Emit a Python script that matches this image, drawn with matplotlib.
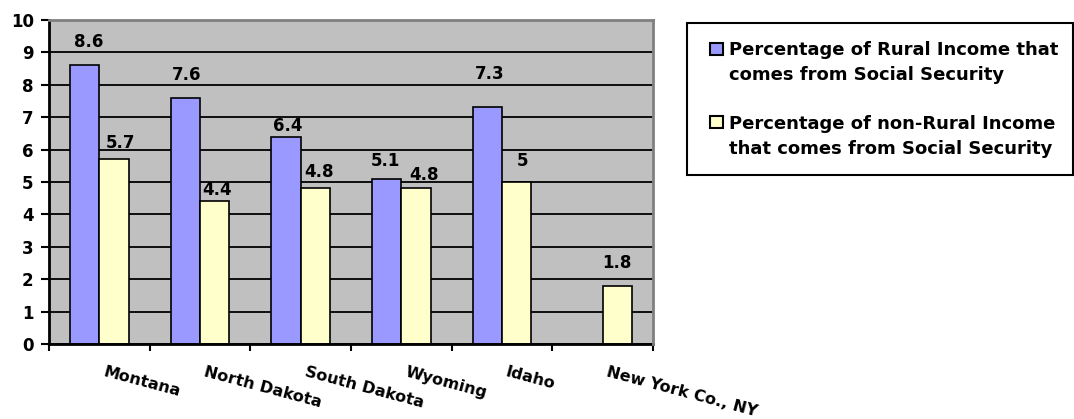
import numpy as np
import matplotlib.pyplot as plt
from matplotlib.patches import Rectangle
from matplotlib.transforms import ScaledTranslation

plt.rcParams['font.family'] = ['DejaVu Sans']
plt.rcParams['font.weight'] = 'bold'

# Share of income coming from Social Security (%)
places = ['Montana', 'North Dakota', 'South Dakota', 'Wyoming', 'Idaho', 'New York Co., NY']
rural_share = [8.6, 7.6, 6.4, 5.1, 7.3, np.nan]
nonrural_share = [5.7, 4.4, 4.8, 4.8, 5.0, 1.8]
series_names = [
    ['Percentage of Rural Income that', 'comes from Social Security'],
    ['Percentage of non-Rural Income', 'that comes from Social Security'],
]

# label nudges in pixels (dx, gap above bar top)
rural_nudge = [(4, 18), (1, 18), (2, 6), (-1, 13), (2, 28), (0, 0)]
nonrural_nudge = [(7, 11), (2, 6), (4, 11), (8, 8), (6, 16), (0, 18)]

blue = '#9999FF'
cream = '#FFFFCC'

W, H = 1074, 419
fig = plt.figure(figsize=(W / 100, H / 100), dpi=100)
ax = fig.add_axes([49 / W, 1 - 344 / H, (653 - 49) / W, (344 - 20) / H])
ax.set_facecolor('#C0C0C0')

x = np.arange(len(places))
bw = 0.29
rural = np.array(rural_share, dtype=float)
nonrural = np.array(nonrural_share, dtype=float)
has_rural = ~np.isnan(rural)

ax.bar(x[has_rural] - bw / 2, rural[has_rural], bw, color=blue,
       edgecolor='black', linewidth=1.2, zorder=2)
ax.bar(x + bw / 2, nonrural, bw, color=cream,
       edgecolor='black', linewidth=1.2, zorder=2)

# value labels
for xi, v, (dx, dy) in zip(x, rural, rural_nudge):
    if np.isnan(v):
        continue
    ax.annotate(f'{v:g}', (xi - bw / 2, v), xytext=(dx, dy),
                textcoords='offset pixels', ha='center', va='baseline',
                fontsize=12, fontweight='bold', zorder=4)
for xi, v, (dx, dy) in zip(x, nonrural, nonrural_nudge):
    ax.annotate(f'{v:g}', (xi + bw / 2, v), xytext=(dx, dy),
                textcoords='offset pixels', ha='center', va='baseline',
                fontsize=12, fontweight='bold', zorder=4)

ax.set_xlim(-0.5, len(places) - 0.5)
ax.set_ylim(0, 10)

ax.set_yticks(range(11))
ax.tick_params(axis='y', length=5.5, width=1.5, pad=5.5, labelsize=12)
ax.set_axisbelow(True)
ax.yaxis.grid(True, color='black', linewidth=1.3)

ax.set_xticks(x)
ax.set_xticklabels(places, rotation=-15, ha='left', va='top',
                   rotation_mode='anchor', fontsize=11.5)
ax.set_xticks(np.arange(-0.5, len(places)), minor=True)
ax.tick_params(axis='x', which='major', length=0, pad=15)
ax.tick_params(axis='x', which='minor', length=5, width=1.5)
shift = ScaledTranslation(6 / 100, 0, fig.dpi_scale_trans)
for lab in ax.get_xticklabels():
    lab.set_transform(lab.get_transform() + shift)

for side in ['left', 'bottom']:
    ax.spines[side].set_color('black')
    ax.spines[side].set_linewidth(2)
for side in ['top', 'right']:
    ax.spines[side].set_color('#808080')
    ax.spines[side].set_linewidth(2)
    ax.spines[side].set_zorder(3)


# legend box, drawn in figure pixel coordinates
def fx(px):
    return px / W


def fy(py):
    return 1 - py / H


fig.patches.append(Rectangle((fx(687), fy(175)), fx(1073) - fx(687), fy(23) - fy(175),
                             transform=fig.transFigure, facecolor='white',
                             edgecolor='black', linewidth=1.5))
swatch_tops = [43, 116]
baselines = [(55, 80), (129, 154)]
for color, top, names, lines in zip([blue, cream], swatch_tops, series_names, baselines):
    fig.patches.append(Rectangle((fx(710), fy(top + 12)), fx(13), 12 / H,
                                 transform=fig.transFigure, facecolor=color,
                                 edgecolor='black', linewidth=1.5))
    for text, base in zip(names, lines):
        fig.text(fx(729), fy(base), text, ha='left', va='baseline',
                 fontsize=13, fontweight='bold')

fig.savefig('out.png', dpi=100)
